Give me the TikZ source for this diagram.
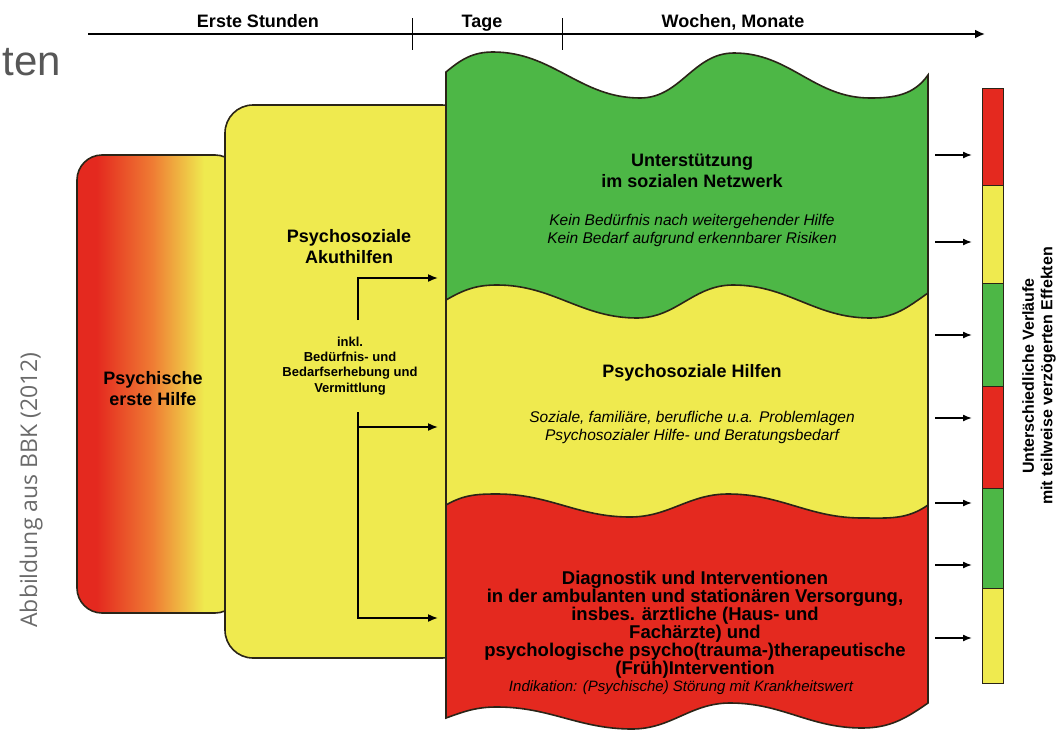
\documentclass[tikz,border=0pt]{standalone}
\usepackage{fontspec}
\setmainfont{Liberation Sans}
\newfontfamily\sourcefont{Open Sans}
\usetikzlibrary{arrows.meta}

\definecolor{bbkred}{HTML}{E4291F}
\definecolor{bbkorange}{HTML}{EF7B33}
\definecolor{bbkyellow}{HTML}{EFEA4F}
\definecolor{bbkgreen}{HTML}{4DB746}
\definecolor{bbkline}{HTML}{2A2417}
\definecolor{slidegray}{HTML}{575757}
\definecolor{sourcegray}{HTML}{6A6A6A}

\pgfdeclarehorizontalshading{redtoyellow}{100bp}{color(0bp)=(bbkred); color(31bp)=(bbkred); color(48bp)=(bbkorange); color(64bp)=(bbkyellow); color(100bp)=(bbkyellow)}

\newcommand{\panelpath}{(446,-72) to[out=40,in=180] (493,-52) to[out=0,in=180] (640,-98) to[out=0,in=180] (734,-53) to[out=0,in=180] (870,-98) to[out=0,in=235] (928,-75) -- (928,-703) to[out=215,in=0] (862,-728) to[out=180,in=0] (730,-703) to[out=180,in=0] (632,-729) to[out=180,in=0] (497,-707) to[out=180,in=20] (446,-718) -- cycle}
\newcommand{\wavegreen}{(446,-300) to[out=30,in=180] (497,-285) to[out=0,in=180] (637,-318) to[out=0,in=180] (733,-285) to[out=0,in=180] (870,-318) to[out=0,in=215] (928,-293)}
\newcommand{\wavered}{(446,-505) to[out=30,in=180] (497,-494) to[out=0,in=180] (630,-517) to[out=0,in=180] (728,-494) to[out=0,in=180] (862,-518) to[out=0,in=215] (928,-505)}

\begin{document}
\begin{tikzpicture}[x=1pt,y=1pt,
    >={Latex[length=10pt,width=8pt]},
    outline/.style={draw=bbkline,line width=1.6pt},
    timelabel/.style={font=\fontsize{18}{20}\selectfont\bfseries,inner sep=0pt,anchor=base},
    heading/.style={font=\fontsize{18}{21}\selectfont\bfseries,align=center,inner sep=0pt},
    note/.style={font=\fontsize{15.5}{18}\selectfont\itshape,align=center,inner sep=0pt},
    pointer/.style={->,line width=1.6pt},
    segment/.style={draw=bbkline,line width=1pt}]
    \useasboundingbox (0,0) rectangle (1058,-731);

    \node[font=\fontsize{42}{48}\selectfont,text=slidegray,anchor=base east,inner sep=0pt] (titlerest) at (61,-75) {ten};
    \node[font=\sourcefont\fontsize{23}{26}\selectfont,text=sourcegray,rotate=90,anchor=base,inner sep=0pt] (source) at (37,-490) {Abbildung aus BBK (2012)};

    \coordinate (axisstart) at (88,-34);
    \coordinate (axisend) at (985,-34);
    \draw[-{Latex[length=10pt,width=9pt]},line width=1.9pt] (axisstart) -- (axisend);
    \draw[line width=1pt] (412,-18) -- (412,-50);
    \draw[line width=1pt] (562,-18) -- (562,-50);
    \node[timelabel] (stunden) at (258,-27) {Erste Stunden};
    \node[timelabel] (tage) at (482,-27) {Tage};
    \node[timelabel] (wochen) at (733,-27) {Wochen, Monate};

    \shadedraw[shading=redtoyellow,outline,rounded corners=25] (77,-155) rectangle (240,-613);
    \filldraw[fill=bbkyellow,outline,rounded corners=28] (225,-105) rectangle (470,-658);

    \begin{scope}
        \clip \panelpath;
        \fill[bbkgreen] (430,-40) rectangle (940,-740);
        \fill[bbkyellow] (430,-300) -- \wavegreen -- (940,-293) -- (940,-740) -- (430,-740) -- cycle;
        \fill[bbkred] (430,-505) -- \wavered -- (940,-505) -- (940,-740) -- (430,-740) -- cycle;
        \draw[outline] \wavegreen;
        \draw[outline] \wavered;
    \end{scope}
    \draw[outline] \panelpath;

    \node[heading] (erstehilfe) at (153,-389) {Psychische\\erste Hilfe};
    \node[heading] (akut) at (349,-247) {Psychosoziale\\Akuthilfen};
    \node[font=\fontsize{13}{15.3}\selectfont\bfseries,align=center,inner sep=0pt] (inkl) at (350,-366) {inkl.\\Bedürfnis- und\\Bedarfserhebung und\\Vermittlung};

    \node[heading] (netzwerk) at (692,-171) {Unterstützung\\im sozialen Netzwerk};
    \node[note] (netzwerknote) at (692,-230) {Kein Bedürfnis nach weitergehender Hilfe\\Kein Bedarf aufgrund erkennbarer Risiken};
    \node[heading,anchor=base] (hilfen) at (692,-377) {Psychosoziale Hilfen};
    \node[note] (hilfennote) at (692,-427) {Soziale, familiäre, berufliche u.a. Problemlagen\\Psychosozialer Hilfe- und Beratungsbedarf};
    \node[heading,font=\fontsize{18.5}{18}\selectfont\bfseries] (versorgung) at (695,-625) {Diagnostik und Interventionen\\in der ambulanten und stationären Versorgung,\\insbes. ärztliche (Haus- und\\Fachärzte) und\\psychologische psycho(trauma-)therapeutische\\(Früh)Intervention};
    \node[note,font=\fontsize{15}{18}\selectfont\itshape,anchor=base] (versorgungnote) at (681,-691) {Indikation: (Psychische) Störung mit Krankheitswert};

    \coordinate (split1) at (358,-320);
    \coordinate (in1) at (438,-278);
    \coordinate (split2) at (358,-412);
    \coordinate (branch2) at (358,-427);
    \coordinate (in2) at (438,-427);
    \coordinate (in3) at (438,-618);
    \draw[pointer] (split1) |- (in1);
    \draw[pointer] (branch2) -- (in2);
    \draw[pointer] (split2) |- (in3);

    \foreach \ya/\yb/\fillcol in {88/185/bbkred,185/283/bbkyellow,283/386/bbkgreen,386/488/bbkred,488/588/bbkgreen,588/683/bbkyellow}
        \filldraw[fill=\fillcol,segment] (982,-\ya) rectangle (1003,-\yb);
    \foreach \ya [count=\i] in {155,242,335,418,503,565,638} {
        \coordinate (out\i) at (935,-\ya);
        \coordinate (bar\i) at (972,-\ya);
        \draw[->,>={Latex[length=9pt,width=7pt]},line width=1.5pt] (out\i) -- (bar\i);
    }

    \node[font=\fontsize{16}{18.5}\selectfont\bfseries,align=center,rotate=90,inner sep=0pt] (verlaeufe) at (1039,-376) {Unterschiedliche Verläufe\\mit teilweise verzögerten Effekten};
\end{tikzpicture}
\end{document}
